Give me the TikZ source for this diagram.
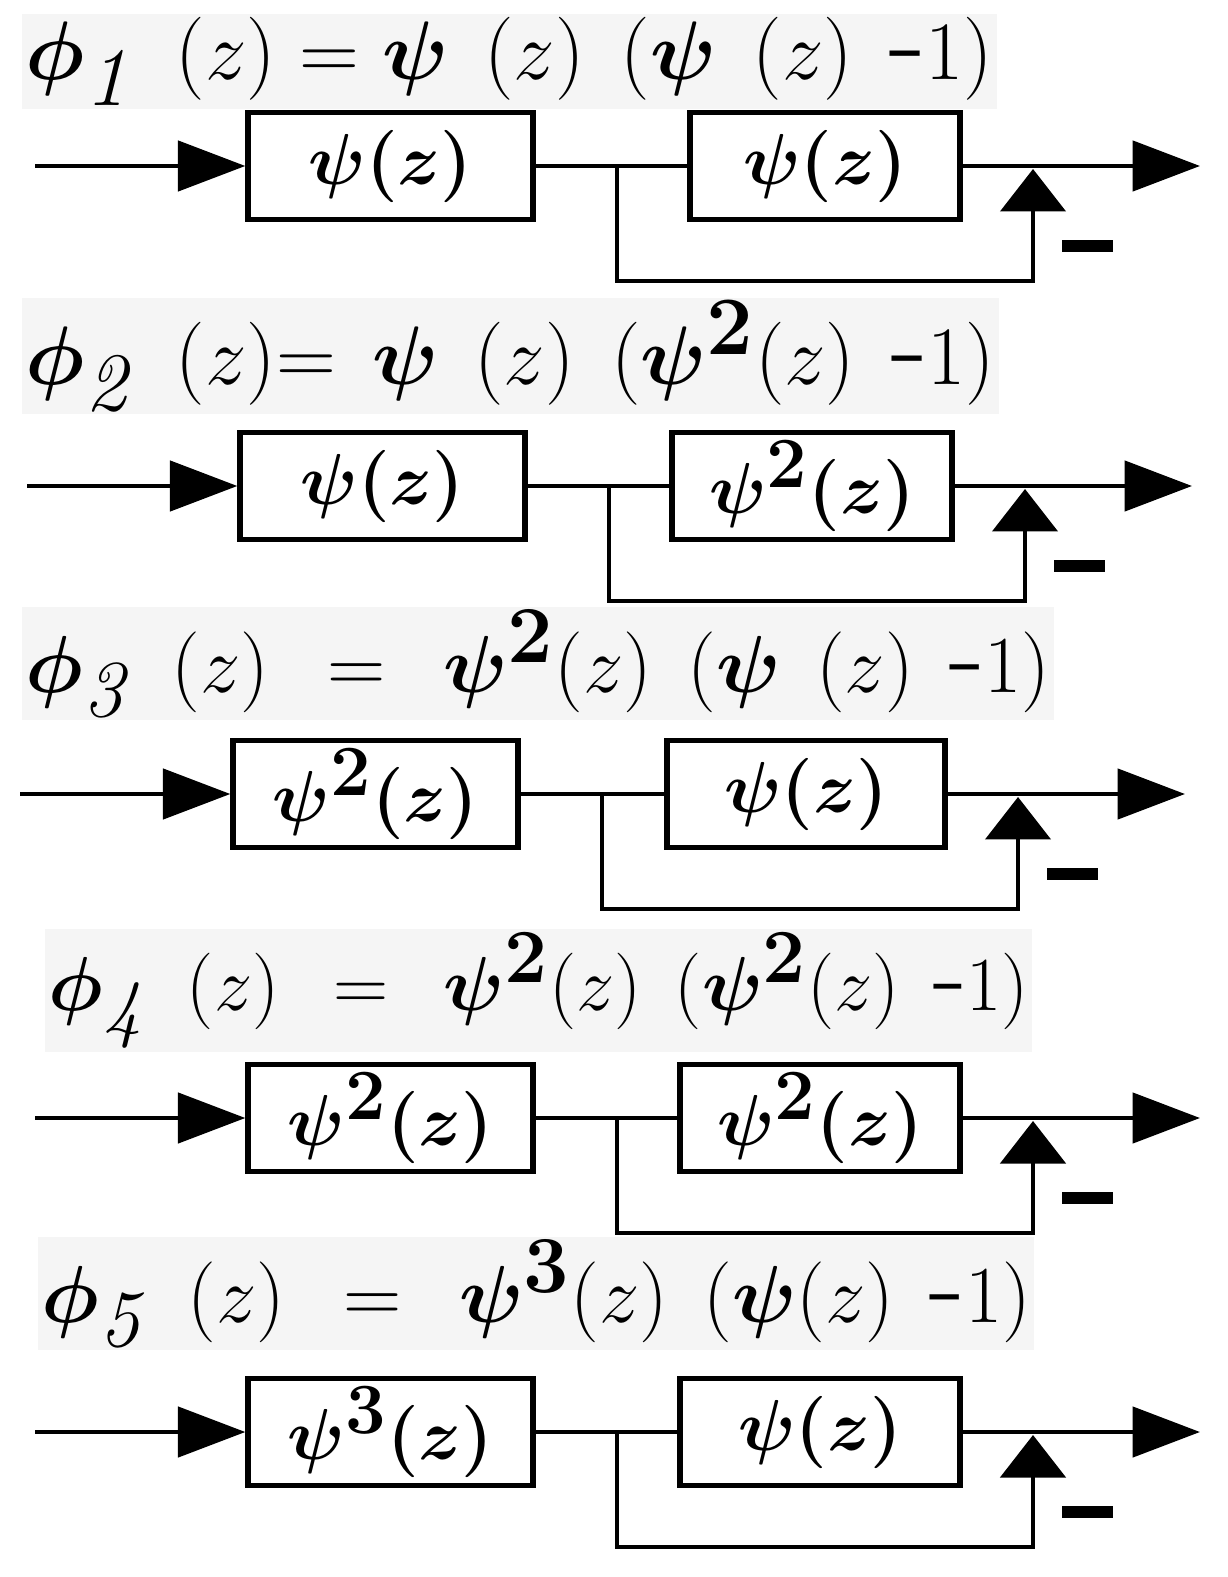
\documentclass[tikz,border=0pt]{standalone}
\usepackage{amsmath}
\usetikzlibrary{arrows.meta}
\tikzset{
  ln/.style={line width=2.8pt},
  blk/.style={draw,line width=3pt,minimum width=5.7cm,minimum height=2.14cm,inner sep=0pt,font=\fontsize{34}{40}\selectfont},
  harr/.style={ln,-{Triangle[length=1.35cm,width=1.0cm]}},
  varr/.style={ln,-{Triangle[length=0.85cm,width=1.3cm]}},
  ttl/.style={anchor=base west,fill=black!4,inner sep=2pt,font=\fontsize{36}{42}\selectfont},
}
\newcommand\rowd[5]{%
  \coordinate (s#1) at (35+#2,#1);
  \coordinate (e#1) at (1200+#2,#1);
  \node[blk,minimum width={(285)*0.02cm}] (a#1) at ({(248+533)/2+#2},#1) {\scalebox{1.65}{$\boldsymbol{#3}$}};
  \node[blk,minimum width={(960+#2-#5)*0.02cm}] (b#1) at ({(#5+960+#2)/2},#1) {\scalebox{1.65}{$\boldsymbol{#4}$}};
  \coordinate (j#1) at (617+#2,#1);
  \coordinate (f#1) at (617+#2,#1+115);
  \coordinate (g#1) at (1033+#2,#1+115);
  \coordinate (t#1) at (1033+#2,#1+3);
  \draw[harr] (s#1) -- (a#1.west);
  \draw[ln] (a#1.east) -- (b#1.west);
  \draw[harr] (b#1.east) -- (e#1);
  \draw[varr] (j#1) -- (f#1) -- (g#1) -- (t#1);
  \draw[line width=7pt] (1062+#2,#1+80) -- (1113+#2,#1+80);
}
\begin{document}
\begin{tikzpicture}[x=0.02cm,y=-0.02cm]
\useasboundingbox (0,0) rectangle (1227,1577);
\rowd{166}{0}{\psi(z)}{\psi(z)}{690}
\rowd{486}{-8}{\psi(z)}{\psi^2(z)}{672}
\rowd{794}{-15}{\psi^2(z)}{\psi(z)}{667}
\rowd{1118}{0}{\psi^2(z)}{\psi^2(z)}{680}
\rowd{1432}{0}{\psi^3(z)}{\psi(z)}{680}
\node[ttl] (t1) at (22,80) {\scalebox{1.9}{$\boldsymbol{\phi}_{\mathit 1}\ (z) = \boldsymbol{\psi}\ (z)\ (\boldsymbol{\psi}\ (z)\ \text{-}1)$}};
\node[ttl] (t2) at (22,385) {\scalebox{1.9}{$\boldsymbol{\phi}_{\mathit 2}\ (z){=}\ \boldsymbol{\psi}\ (z)\ (\boldsymbol{\psi}^{\mathbf 2}(z)\ \text{-}1)$}};
\node[ttl] (t3) at (22,692) {\scalebox{1.85}{$\boldsymbol{\phi}_{\mathit 3}\ (z)\ =\ \boldsymbol{\psi}^{\mathbf 2}(z)\ (\boldsymbol{\psi}\ (z)\ \text{-}1)$}};
\node[ttl] (t4) at (45,1010) {\scalebox{1.75}{$\boldsymbol{\phi}_{\mathit 4}\ (z)\ =\ \boldsymbol{\psi}^{\mathbf 2}(z)\ (\boldsymbol{\psi}^{\mathbf 2}(z)\ \text{-}1)$}};
\node[ttl] (t5) at (38,1322) {\scalebox{1.85}{$\boldsymbol{\phi}_{\mathit 5}\ (z)\ =\ \boldsymbol{\psi}^{\mathbf 3}(z)\ (\boldsymbol{\psi}(z)\ \text{-}1)$}};
\end{tikzpicture}
\end{document}
